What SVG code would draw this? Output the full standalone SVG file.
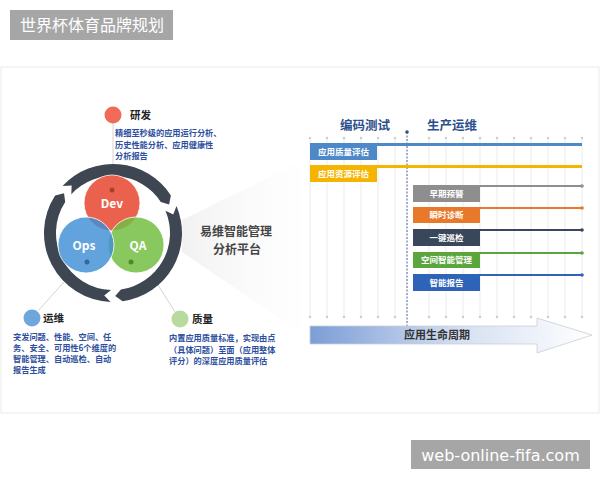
<svg xmlns="http://www.w3.org/2000/svg" width="600" height="480" viewBox="0 0 600 480">
<defs>
<style>
.cjk{font-family:"Noto Sans CJK SC","Noto Sans",sans-serif}
.desc{font-family:"Noto Sans CJK SC",sans-serif;font-size:8.2px;font-weight:700;fill:#2e4f9e}
.ttl{font-family:"Noto Sans CJK SC",sans-serif;font-size:10.5px;font-weight:700;fill:#222}
.venn{font-family:"Noto Sans CJK SC","Noto Sans",sans-serif;font-size:12px;font-weight:700;fill:#fff;text-anchor:middle}
.bar{font-family:"Noto Sans CJK SC",sans-serif;font-size:8.5px;font-weight:700;fill:#fff;text-anchor:middle}
.hdr{font-family:"Noto Sans CJK SC",sans-serif;font-size:12.5px;font-weight:700;fill:#2b4f8c}
.grid{stroke:#e6e6e6;stroke-width:0.8}
.gdot{fill:#cfcfcf}
.conn{stroke:#d4d4d4;stroke-width:1;fill:none}
.ring{fill:#3e4652}
</style>
<linearGradient id="beam" x1="0" y1="0" x2="1" y2="0">
<stop offset="0" stop-color="#eeeeee" stop-opacity="0.8"/>
<stop offset="1" stop-color="#fafafa" stop-opacity="0.2"/>
</linearGradient>
<linearGradient id="arr" x1="0" y1="0" x2="1" y2="0">
<stop offset="0" stop-color="#7c9dd6"/>
<stop offset="0.55" stop-color="#d7e1f2"/>
<stop offset="1" stop-color="#ffffff"/>
</linearGradient>
</defs>

<rect x="0" y="0" width="600" height="480" fill="#ffffff"/>

<g id="title-label">
<rect x="10" y="10" width="163" height="30" fill="#a6a6a6"/>
<text x="20" y="31" class="cjk" font-size="16" fill="#ffffff">世界杯体育品牌规划</text>
</g>

<g id="panel">
<rect x="1" y="67" width="598" height="346" fill="#ffffff" stroke="#eeeeee" stroke-width="1.2"/>
</g>

<g id="beam">
<polygon points="182,220 300,162 300,332 182,252" fill="url(#beam)"/>
</g>

<g id="connectors">
<line class="conn" x1="113" y1="123" x2="113" y2="164"/>
<line class="conn" x1="64" y1="282" x2="38" y2="311"/>
<line class="conn" x1="158" y1="285" x2="175" y2="312"/>
</g>

<g id="ring">
<path class="ring" d="M110.59,301.96 A69,69 0 0 1 55.13,195.42 L64.04,193.35 L65.19,201.96 A57,57 0 0 0 111.01,289.97 L104.23,295.39 Z"/>
<path class="ring" d="M62.53,185.94 A69,69 0 0 1 170.87,195.42 L169.13,204.40 L160.81,201.96 A57,57 0 0 0 71.31,194.13 L71.67,185.45 Z"/>
<path class="ring" d="M176.51,206.04 A69,69 0 0 1 122.60,301.33 L115.20,295.96 L120.93,289.45 A57,57 0 0 0 165.47,210.73 L173.25,214.58 Z"/>
</g>

<g id="node-dev">
<circle cx="112" cy="203" r="28" fill="#e8553f" fill-opacity="0.92" stroke="#ffffff" stroke-width="0.8"/>
<circle cx="112" cy="190" r="2.5" fill="#a8402f"/>
<text x="112" y="208" class="venn">Dev</text>
</g>
<g id="node-qa">
<circle cx="136" cy="245" r="28" fill="#74bd43" fill-opacity="0.85" stroke="#ffffff" stroke-width="0.8"/>
<circle cx="131" cy="262" r="2.5" fill="#4b8a2c"/>
<text x="138" y="250" class="venn">QA</text>
</g>
<g id="node-ops">
<circle cx="86" cy="245" r="28" fill="#3f8fd6" fill-opacity="0.82" stroke="#ffffff" stroke-width="0.8"/>
<circle cx="87" cy="262" r="2.5" fill="#2d6aa3"/>
<text x="84" y="250" class="venn">Ops</text>
</g>

<g id="node-yanfa">
<circle cx="113" cy="115" r="8.5" fill="#f06b58"/>
<text x="130" y="119" class="ttl">研发</text>
<text x="115" y="136" class="desc">精细至秒级的应用运行分析、</text>
<text x="115" y="147.5" class="desc">历史性能分析、应用健康性</text>
<text x="115" y="159" class="desc">分析报告</text>
</g>

<g id="node-yunwei">
<circle cx="32" cy="318" r="8.5" fill="#6fa6dc"/>
<text x="43" y="322" class="ttl">运维</text>
<text x="13" y="340" class="desc">突发问题、性能、空间、任</text>
<text x="13" y="351" class="desc">务、安全、可用性6个维度的</text>
<text x="13" y="362" class="desc">智能管理、自动巡检、自动</text>
<text x="13" y="373" class="desc">报告生成</text>
</g>

<g id="node-zhiliang">
<circle cx="180" cy="319" r="8.5" fill="#b8da9e"/>
<text x="192" y="323" class="ttl">质量</text>
<text x="169" y="341" class="desc">内置应用质量标准，实现由点</text>
<text x="169" y="352.5" class="desc">（具体问题）至面（应用整体</text>
<text x="169" y="364" class="desc">评分）的深度应用质量评估</text>
</g>

<g id="platform">
<text x="236" y="235.5" class="cjk" font-size="12" font-weight="700" fill="#444" text-anchor="middle">易维智能管理</text>
<text x="237" y="253.5" class="cjk" font-size="12" font-weight="700" fill="#444" text-anchor="middle">分析平台</text>
</g>

<g id="timeline-grid">
<g class="grid">
<line x1="310" y1="138" x2="310" y2="317"/><line x1="327" y1="138" x2="327" y2="317"/>
<line x1="344" y1="138" x2="344" y2="317"/><line x1="361" y1="138" x2="361" y2="317"/>
<line x1="378" y1="138" x2="378" y2="317"/><line x1="395" y1="138" x2="395" y2="317"/>
<line x1="429" y1="138" x2="429" y2="317"/><line x1="446" y1="138" x2="446" y2="317"/>
<line x1="463" y1="138" x2="463" y2="317"/><line x1="480" y1="138" x2="480" y2="317"/>
<line x1="497" y1="138" x2="497" y2="317"/><line x1="514" y1="138" x2="514" y2="317"/>
<line x1="531" y1="138" x2="531" y2="317"/><line x1="548" y1="138" x2="548" y2="317"/>
<line x1="565" y1="138" x2="565" y2="317"/><line x1="582" y1="138" x2="582" y2="317"/>
</g>
<g class="gdot">
<circle cx="310" cy="138" r="1.3"/><circle cx="327" cy="138" r="1.3"/><circle cx="344" cy="138" r="1.3"/><circle cx="361" cy="138" r="1.3"/><circle cx="378" cy="138" r="1.3"/><circle cx="395" cy="138" r="1.3"/><circle cx="429" cy="138" r="1.3"/><circle cx="446" cy="138" r="1.3"/><circle cx="463" cy="138" r="1.3"/><circle cx="480" cy="138" r="1.3"/><circle cx="497" cy="138" r="1.3"/><circle cx="514" cy="138" r="1.3"/><circle cx="531" cy="138" r="1.3"/><circle cx="548" cy="138" r="1.3"/><circle cx="565" cy="138" r="1.3"/><circle cx="582" cy="138" r="1.3"/>
<circle cx="310" cy="317" r="1.3"/><circle cx="327" cy="317" r="1.3"/><circle cx="344" cy="317" r="1.3"/><circle cx="361" cy="317" r="1.3"/><circle cx="378" cy="317" r="1.3"/><circle cx="395" cy="317" r="1.3"/><circle cx="429" cy="317" r="1.3"/><circle cx="446" cy="317" r="1.3"/><circle cx="463" cy="317" r="1.3"/><circle cx="480" cy="317" r="1.3"/><circle cx="497" cy="317" r="1.3"/><circle cx="514" cy="317" r="1.3"/><circle cx="531" cy="317" r="1.3"/><circle cx="548" cy="317" r="1.3"/><circle cx="565" cy="317" r="1.3"/><circle cx="582" cy="317" r="1.3"/>
</g>
<line x1="407" y1="132" x2="407" y2="326" stroke="#4a5f9a" stroke-width="1" stroke-dasharray="2,1.5"/>
<circle cx="407" cy="132" r="1.8" fill="#3d4f86"/>
</g>

<g id="headers">
<text x="340" y="130" class="hdr">编码测试</text>
<text x="427" y="130" class="hdr">生产运维</text>
</g>

<g id="bar-1">
<line x1="310" y1="144.5" x2="582" y2="144.5" stroke="#4d88c8" stroke-width="3"/>
<rect x="310" y="143" width="67" height="17" fill="#4d88c8"/>
<text x="343.5" y="154.5" class="bar">应用质量评估</text>
</g>
<g id="bar-2">
<line x1="310" y1="166.5" x2="582" y2="166.5" stroke="#f5b400" stroke-width="3"/>
<rect x="310" y="165" width="67" height="17" fill="#f5b400"/>
<text x="343.5" y="176.5" class="bar">应用资源评估</text>
</g>
<g id="bar-3">
<line x1="413" y1="186" x2="582" y2="186" stroke="#8e8e8e" stroke-width="2"/>
<circle cx="582" cy="186" r="1.8" fill="#8e8e8e"/>
<rect x="413" y="185" width="67" height="17" fill="#8e8e8e"/>
<text x="446.5" y="196.5" class="bar">早期预警</text>
</g>
<g id="bar-4">
<line x1="413" y1="208" x2="582" y2="208" stroke="#e8782a" stroke-width="2"/>
<circle cx="582" cy="208" r="1.8" fill="#e8782a"/>
<rect x="413" y="207" width="67" height="16" fill="#e8782a"/>
<text x="446.5" y="218" class="bar">瞬时诊断</text>
</g>
<g id="bar-5">
<line x1="413" y1="230" x2="582" y2="230" stroke="#3a475a" stroke-width="2"/>
<circle cx="582" cy="230" r="1.8" fill="#3a475a"/>
<rect x="413" y="229" width="67" height="17" fill="#3a475a"/>
<text x="446.5" y="240.5" class="bar">一键巡检</text>
</g>
<g id="bar-6">
<line x1="413" y1="253" x2="582" y2="253" stroke="#5ba63c" stroke-width="2"/>
<circle cx="582" cy="253" r="1.8" fill="#5ba63c"/>
<rect x="413" y="252" width="67" height="16" fill="#5ba63c"/>
<text x="446.5" y="263" class="bar">空间智能管理</text>
</g>
<g id="bar-7">
<line x1="413" y1="275" x2="582" y2="275" stroke="#2e64b8" stroke-width="2"/>
<circle cx="582" cy="275" r="1.8" fill="#2e64b8"/>
<rect x="413" y="274" width="67" height="17" fill="#2e64b8"/>
<text x="446.5" y="285.5" class="bar">智能报告</text>
</g>

<g id="lifecycle-arrow">
<path d="M310,326 L537,326 L537,318 L592,335 L537,353 L537,344 L310,344 Z" fill="url(#arr)" stroke="#c9ced8" stroke-width="0.8"/>
<text x="437" y="339" class="cjk" font-size="11" font-weight="700" fill="#333" text-anchor="middle">应用生命周期</text>
</g>

<g id="footer-label">
<rect x="411" y="440" width="179" height="29" fill="#a6a6a6"/>
<text x="500.5" y="460.5" font-family="DejaVu Sans, sans-serif" font-size="16" fill="#ffffff" text-anchor="middle">web-online-fifa.com</text>
</g>
</svg>
